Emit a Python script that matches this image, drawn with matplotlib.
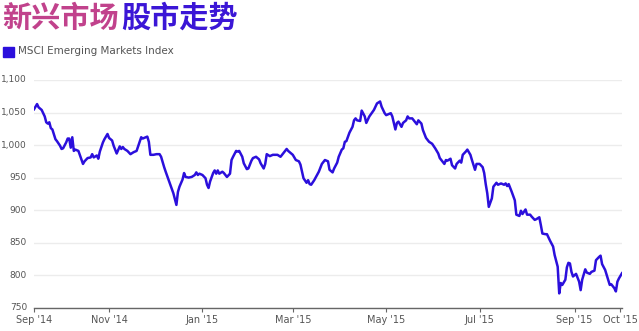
import pandas as pd
import matplotlib.pyplot as plt
from matplotlib.patches import Rectangle

# day offsets from 2014-09-13 and index level
day = [0, 2, 3, 5, 7, 8, 9, 10, 11, 12, 14, 15, 17, 18, 19, 21, 22, 23, 24, 25,
       26, 27, 29, 32, 33, 35, 37, 38, 39, 41, 42, 43, 45, 46, 48, 49, 51, 52, 53, 54,
       56, 57, 58, 59, 61, 63, 65, 67, 69, 70, 71, 73, 74, 75, 76, 78, 80, 82, 83, 85,
       86, 88, 89, 91, 93, 94, 95, 97, 98, 99, 101, 103, 105, 106, 107, 108, 110, 112, 113, 114,
       115, 117, 118, 119, 120, 121, 123, 124, 126, 128, 129, 130, 132, 133, 134, 136, 137, 139, 140, 142,
       143, 145, 147, 148, 150, 151, 152, 154, 156, 159, 161, 163, 165, 166, 168, 169, 171, 173, 174, 176,
       178, 179, 180, 181, 183, 186, 188, 190, 192, 193, 195, 196, 198, 199, 201, 202, 203, 204, 206, 208,
       209, 210, 211, 213, 214, 216, 217, 219, 222, 224, 226, 227, 229, 230, 233, 234, 235, 236, 237, 238,
       240, 241, 243, 244, 245, 247, 248, 250, 251, 253, 254, 256, 258, 260, 262, 264, 265, 268, 269, 270,
       272, 273, 275, 276, 278, 279, 280, 282, 283, 285, 286, 288, 289, 291, 293, 294, 295, 296, 297, 299,
       300, 302, 303, 305, 307, 308, 309, 310, 312, 314, 315, 317, 318, 319, 321, 322, 324, 325, 327, 328,
       330, 331, 332, 334, 335, 337, 339, 340, 342, 343, 344, 345, 347, 348, 349, 350, 351, 352, 354, 356,
       357, 358, 360, 361, 363, 364, 366, 367, 369, 370, 371, 373, 375, 376, 377, 379, 380, 381, 382, 384]
msci = [1055, 1063, 1058, 1054, 1044, 1035, 1033, 1035, 1026, 1024, 1009, 1006, 999, 994, 995, 1004, 1010, 1010, 996, 1012,
        991, 993, 991, 971, 975, 980, 981, 986, 981, 984, 979, 990, 1004, 1009, 1017, 1011, 1007, 999, 993, 987,
        998, 994, 997, 994, 991, 986, 989, 991, 1005, 1012, 1010, 1012, 1013, 1005, 985, 985, 986, 986, 982, 966,
        959, 946, 939, 926, 908, 928, 936, 947, 957, 951, 950, 951, 954, 958, 954, 956, 954, 949, 939, 934,
        944, 957, 961, 956, 961, 956, 959, 957, 951, 956, 977, 982, 991, 990, 991, 982, 972, 963, 964, 976,
        980, 982, 978, 972, 964, 971, 986, 983, 985, 985, 982, 988, 994, 991, 987, 985, 977, 975, 970, 949,
        942, 946, 940, 939, 946, 959, 971, 977, 975, 962, 958, 964, 973, 982, 993, 995, 1005, 1006, 1019, 1028,
        1038, 1041, 1038, 1037, 1053, 1044, 1034, 1044, 1054, 1064, 1067, 1059, 1049, 1046, 1049, 1044, 1034, 1024, 1034, 1036,
        1028, 1034, 1038, 1044, 1041, 1041, 1038, 1032, 1038, 1033, 1023, 1011, 1005, 1002, 995, 987, 980, 971, 977, 976,
        979, 969, 964, 971, 976, 973, 985, 990, 993, 985, 977, 962, 971, 971, 966, 957, 940, 926, 905, 918,
        936, 942, 939, 941, 939, 941, 937, 940, 928, 915, 893, 891, 899, 894, 901, 893, 893, 890, 885, 886,
        889, 877, 864, 863, 863, 853, 844, 831, 813, 772, 788, 785, 793, 812, 819, 818, 805, 798, 802, 790,
        777, 793, 809, 804, 802, 805, 807, 823, 828, 830, 817, 808, 793, 785, 786, 780, 775, 790, 795, 803]

tick_dates = ["2014-09-13", "2014-11-01", "2015-01-01", "2015-03-01", "2015-05-01",
              "2015-07-01", "2015-09-01", "2015-10-01"]
tick_labels = ["Sep '14", "Nov '14", "Jan '15", "Mar '15", "May '15", "Jul '15", "Sep '15", "Oct '15"]
y_ticks = [750, 800, 850, 900, 950, 1000, 1050, 1100]

start = pd.Timestamp("2014-09-13")
dates = start + pd.to_timedelta(day, unit="D")

W, H = 639, 331
fig = plt.figure(figsize=(W / 100, H / 100), dpi=100)
ax = fig.add_axes([34 / W, 1 - 307.7 / H, (622 - 34) / W, (307.7 - 80) / H])

ax.plot(dates, msci, color="#2b0fdc", linewidth=1.8, solid_joinstyle="round", zorder=3)

ax.set_ylim(750, 1100)
ax.set_xlim(dates[0], dates[-1])
ax.set_yticks(y_ticks)
ax.set_yticklabels([f"{v:,}" for v in y_ticks])
ax.set_xticks(pd.to_datetime(tick_dates))
ax.set_xticklabels(tick_labels)

ax.grid(axis="y", color="#ececec", linewidth=1)
ax.set_axisbelow(True)
for s in ["top", "right", "left"]:
    ax.spines[s].set_visible(False)
ax.spines["bottom"].set_color("#666666")
ax.spines["bottom"].set_linewidth(1)
ax.tick_params(axis="y", length=0, pad=5, labelsize=6.5, labelcolor="#555555")
ax.tick_params(axis="x", length=3, color="#666666", pad=2, labelsize=7, labelcolor="#555555")
for lbl in ax.get_yticklabels():
    lbl.set_verticalalignment("center")

# title in two colours
fig.text(2 / W, 1 - 18 / H, "新兴市场", fontsize=21, fontweight="bold", color="#c1428c",
         family=["Noto Sans CJK SC", "DejaVu Sans"], va="center", ha="left")
fig.text(121 / W, 1 - 18 / H, "股市走势", fontsize=21, fontweight="bold", color="#3b16d6",
         family=["Noto Sans CJK SC", "DejaVu Sans"], va="center", ha="left")

# legend
fig.patches.append(Rectangle((3.3 / W, 1 - 56.7 / H), 10.5 / W, 10 / H,
                             transform=fig.transFigure, color="#2b0fdc"))
fig.text(18 / W, 1 - 51.5 / H, "MSCI Emerging Markets Index", fontsize=7.5, color="#555555",
         va="center", ha="left")

fig.savefig("out.png", dpi=100)
